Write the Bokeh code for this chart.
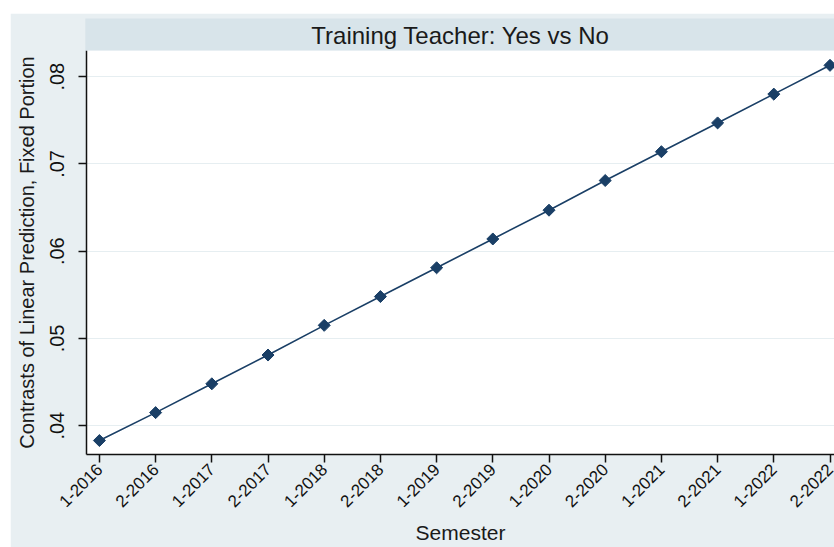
import math
from bokeh.plotting import figure
from bokeh.models import (Range1d, FixedTicker, CustomJSTickFormatter, Title, Spacer)
from bokeh.layouts import column, row
from bokeh.embed import file_html
from bokeh.resources import INLINE

semesters = ["1-2016", "2-2016", "1-2017", "2-2017", "1-2018", "2-2018", "1-2019",
             "2-2019", "1-2020", "2-2020", "1-2021", "2-2021", "1-2022", "2-2022"]
contrast = [0.0383, 0.0415, 0.0448, 0.0481, 0.0515, 0.0548, 0.0581,
            0.0614, 0.0647, 0.0681, 0.0714, 0.0747, 0.0780, 0.0813]
y_ticks = [0.04, 0.05, 0.06, 0.07, 0.08]

FONT = "Liberation Sans"
BG = "#e8eff2"
BAND = "#d8e4ea"
NAVY = "#1a3f66"

xs = list(range(len(semesters)))

p = figure(width=824, height=534, output_backend="svg", toolbar_location=None,
           x_range=Range1d(-0.23, 13.08), y_range=Range1d(0.0367, 0.0830),
           min_border_left=76, min_border_right=0, min_border_top=37, min_border_bottom=60)
t = Title(text="Training Teacher: Yes vs No", align="center", text_font=FONT,
          text_font_size="24px", text_font_style="normal", text_color="#1a1a1a",
          background_fill_color=BAND, standoff=0,
          padding=dict(left=226, right=226, top=3, bottom=2))
p.add_layout(t, "above")

p.border_fill_color = BG
p.background_fill_color = "white"
p.outline_line_color = None

p.line(xs, contrast, line_color=NAVY, line_width=1.6)
p.scatter(xs, contrast, marker="square", angle=math.pi / 4, size=8.5, color=NAVY)

p.xgrid.visible = False
p.ygrid.grid_line_color = "#e6eef1"
p.ygrid.ticker = FixedTicker(ticks=y_ticks)

p.xaxis.ticker = FixedTicker(ticks=xs)
p.xaxis.major_label_overrides = {i: s for i, s in enumerate(semesters)}
p.xaxis.major_label_orientation = math.pi / 4
p.xaxis.axis_label = "Semester"
p.yaxis.ticker = FixedTicker(ticks=y_ticks)
p.yaxis.formatter = CustomJSTickFormatter(code="return tick.toFixed(2).replace(/^0/, '');")
p.yaxis.major_label_orientation = "vertical"
p.yaxis.axis_label = "Contrasts of Linear Prediction, Fixed Portion"

for ax in (p.xaxis[0], p.yaxis[0]):
    ax.axis_line_color = "#111111"
    ax.axis_line_width = 1.5
    ax.major_tick_line_color = "#111111"
    ax.major_tick_line_width = 1.5
    ax.major_tick_out = 8
    ax.major_tick_in = 0
    ax.minor_tick_line_color = None
    ax.major_label_text_font = FONT
    ax.major_label_text_color = "#111111"
    ax.axis_label_text_font = FONT
    ax.axis_label_text_font_style = "normal"
    ax.axis_label_text_color = "#1a1a1a"

p.xaxis.major_label_text_font_size = "17px"
p.yaxis.major_label_text_font_size = "20px"
p.xaxis.axis_label_text_font_size = "21px"
p.yaxis.axis_label_text_font_size = "20px"
p.xaxis.axis_label_text_baseline = "middle"
p.xaxis.major_label_standoff = 4
p.xaxis.axis_label_standoff = 6
p.yaxis.major_label_standoff = 14
p.yaxis.axis_label_standoff = 10

layout = column(Spacer(height=13), row(Spacer(width=10), p))
open("out.html", "w").write(file_html(layout, INLINE))
